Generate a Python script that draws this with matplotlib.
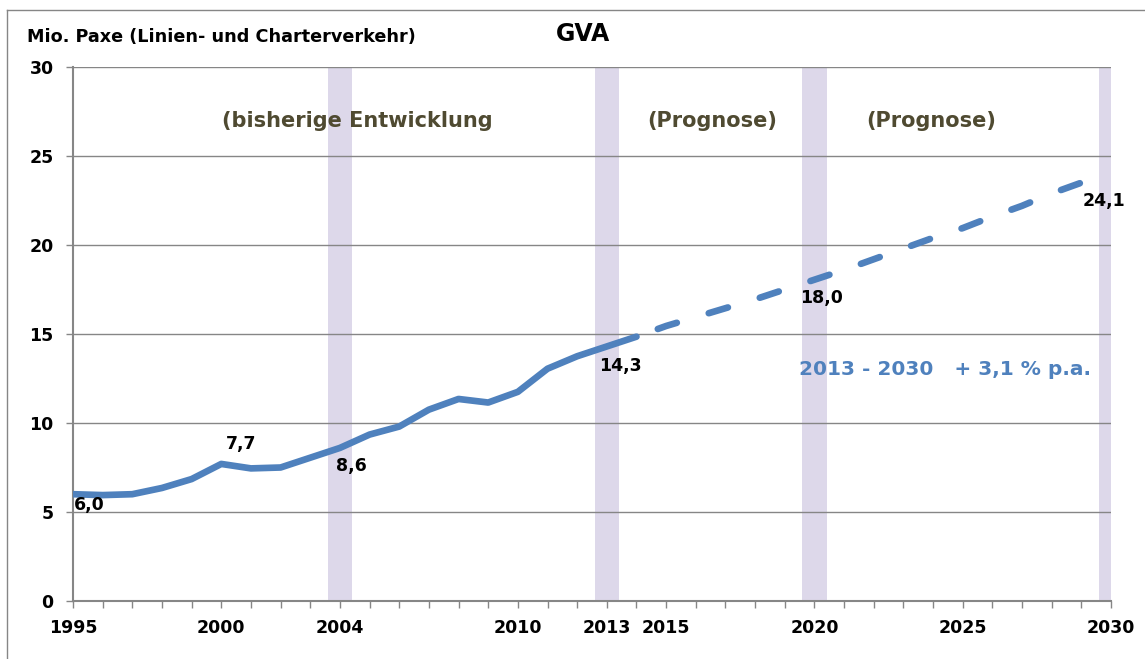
import numpy as np
import matplotlib
matplotlib.use("Agg")
from matplotlib import pyplot as plt
from matplotlib.lines import Line2D

plt.rcParams["font.family"] = ["DejaVu Sans"]
plt.rcParams["font.weight"] = "bold"

# historical passengers (Mio.), 1995-2014
hist_years = list(range(1995, 2015))
hist_vals = [6.0, 5.95, 6.0, 6.35, 6.85, 7.7, 7.45, 7.5, 8.05, 8.6,
             9.35, 9.8, 10.75, 11.35, 11.15, 11.75, 13.05, 13.75, 14.3, 14.85]

# forecast, 2014-2030
fc_years = list(range(2014, 2031))
fc_vals = [14.85, 15.45, 15.95, 16.45, 16.95, 17.5, 18.05, 18.6, 19.2, 19.8,
           20.4, 20.95, 21.6, 22.2, 22.9, 23.5, 24.1]

tick_labels = {1995: "1995", 2000: "2000", 2004: "2004", 2010: "2010", 2013: "2013",
               2015: "2015", 2020: "2020", 2025: "2025", 2030: "2030"}
band_years = [2004, 2013, 2020, 2030]

# value labels: (year, value, text, dx px, dy px)
value_labels = [(1995, 6.0, "6,0", 16, -11), (2000, 7.7, "7,7", 20, 20),
                (2004, 8.6, "8,6", 11, -18), (2013, 14.3, "14,3", 14, -20),
                (2020, 18.05, "18,0", 7, -18), (2030, 24.1, "24,1", -7, -29)]

blue = "#4F81BD"
grey = "#868686"
olive = "#4F4A31"

fig = plt.figure(figsize=(11.45, 6.59), dpi=100)
ax = fig.add_axes([73 / 1145, 1 - 601 / 659, (1111 - 73) / 1145, (601 - 67) / 659])

for y in band_years:
    ax.axvspan(y - 0.41, y + 0.41, color="#DDD8EA", zorder=0, lw=0)

ax.set_xlim(1995, 2030)
ax.set_ylim(0, 30)
ax.set_yticks(np.arange(0, 31, 5))
ax.yaxis.grid(True, color=grey, lw=1)
ax.set_axisbelow(True)

ax.plot(hist_years, hist_vals, color=blue, lw=4.8, solid_capstyle="round",
        solid_joinstyle="round", zorder=3)
ax.plot(fc_years, fc_vals, color=blue, lw=4.8, linestyle=(4.6, (3, 5)),
        dash_capstyle="round", zorder=3)

for x, v, s, dx, dy in value_labels:
    ax.annotate(s, (x, v), xytext=(dx, dy), textcoords="offset pixels",
                ha="center", va="center", fontsize=12.5, fontweight="bold",
                color="black", zorder=4, annotation_clip=False)

ax.set_xticks(list(range(1995, 2031)))
ax.set_xticklabels([tick_labels.get(y, "") for y in range(1995, 2031)])
ax.tick_params(axis="both", length=5, width=1, color=grey, labelsize=12.5)
ax.tick_params(axis="x", pad=8)
ax.tick_params(axis="y", pad=9)
for lab in ax.get_xticklabels() + ax.get_yticklabels():
    lab.set_fontweight("bold")

for side in ["top", "right"]:
    ax.spines[side].set_visible(False)
for side in ["left", "bottom"]:
    ax.spines[side].set_color(grey)
    ax.spines[side].set_linewidth(1.5)

ax.text(2004.6, 26.95, "(bisherige Entwicklung", ha="center", va="center",
        fontsize=15, fontweight="bold", color=olive)
ax.text(2016.55, 26.95, "(Prognose)", ha="center", va="center",
        fontsize=15, fontweight="bold", color=olive)
ax.text(2023.95, 26.95, "(Prognose)", ha="center", va="center",
        fontsize=15, fontweight="bold", color=olive)
ax.text(2024.4, 13.0, "2013 - 2030   + 3,1 % p.a.", ha="center", va="center",
        fontsize=14.5, fontweight="bold", color=blue)

fig.text(27 / 1145, 1 - 37 / 659, "Mio. Paxe (Linien- und Charterverkehr)",
         ha="left", va="center", fontsize=12.7, fontweight="bold")
fig.text(583 / 1145, 1 - 34 / 659, "GVA", ha="center", va="center",
         fontsize=17, fontweight="bold")

# outer frame (left and top edges)
fig.add_artist(Line2D([7 / 1145, 7 / 1145], [0, 1 - 10 / 659],
                      transform=fig.transFigure, color=grey, lw=1))
fig.add_artist(Line2D([7 / 1145, 1], [1 - 10 / 659, 1 - 10 / 659],
                      transform=fig.transFigure, color=grey, lw=1))

fig.savefig("out.png", dpi=100)
